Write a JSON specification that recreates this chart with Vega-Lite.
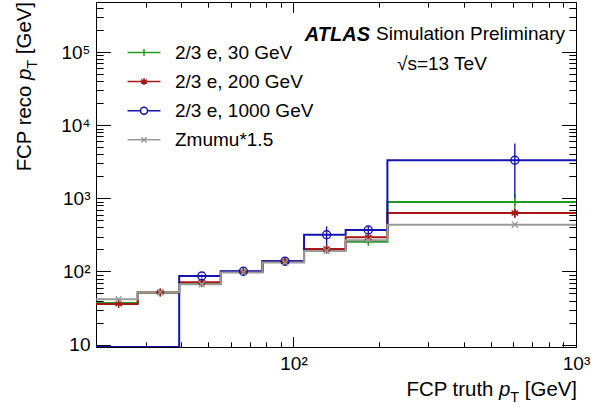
{
  "$schema": "https://vega.github.io/schema/vega-lite/v6.json",
  "width": 480,
  "height": 345,
  "autosize": {"type": "none"},
  "padding": {"left": 96, "top": 2, "right": 28, "bottom": 70},
  "background": "white",
  "config": {
    "font": "Liberation Sans",
    "view": {"stroke": "black", "strokeWidth": 1}
  },
  "datasets": {
    "hist": [
      {"series": "2/3 e, 30 GeV", "bin": 1, "lo": 20, "hi": 28.1, "mid": 24.05, "v": 37, "err": 1},
      {"series": "2/3 e, 30 GeV", "bin": 2, "lo": 28.1, "hi": 39.4, "mid": 33.75, "v": 51, "err": 1},
      {"series": "2/3 e, 30 GeV", "bin": 3, "lo": 39.4, "hi": 55.3, "mid": 47.35, "v": 69, "err": 1.5},
      {"series": "2/3 e, 30 GeV", "bin": 4, "lo": 55.3, "hi": 77.7, "mid": 66.5, "v": 99, "err": 2},
      {"series": "2/3 e, 30 GeV", "bin": 5, "lo": 77.7, "hi": 109, "mid": 93.35, "v": 137, "err": 3},
      {"series": "2/3 e, 30 GeV", "bin": 6, "lo": 109, "hi": 153, "mid": 131, "v": 198, "err": 6},
      {"series": "2/3 e, 30 GeV", "bin": 7, "lo": 153, "hi": 215, "mid": 184, "v": 254, "err": 15},
      {"series": "2/3 e, 30 GeV", "bin": 8, "lo": 215, "hi": 1000, "mid": 607.5, "v": 889, "err": 240},
      {"series": "2/3 e, 200 GeV", "bin": 1, "lo": 20, "hi": 28.1, "mid": 24.05, "v": 36, "err": 1},
      {"series": "2/3 e, 200 GeV", "bin": 2, "lo": 28.1, "hi": 39.4, "mid": 33.75, "v": 52, "err": 1},
      {"series": "2/3 e, 200 GeV", "bin": 3, "lo": 39.4, "hi": 55.3, "mid": 47.35, "v": 71, "err": 1.5},
      {"series": "2/3 e, 200 GeV", "bin": 4, "lo": 55.3, "hi": 77.7, "mid": 66.5, "v": 99, "err": 2},
      {"series": "2/3 e, 200 GeV", "bin": 5, "lo": 77.7, "hi": 109, "mid": 93.35, "v": 138, "err": 3},
      {"series": "2/3 e, 200 GeV", "bin": 6, "lo": 109, "hi": 153, "mid": 131, "v": 203, "err": 6},
      {"series": "2/3 e, 200 GeV", "bin": 7, "lo": 153, "hi": 215, "mid": 184, "v": 294, "err": 18},
      {"series": "2/3 e, 200 GeV", "bin": 8, "lo": 215, "hi": 1000, "mid": 607.5, "v": 629, "err": 90},
      {"series": "2/3 e, 1000 GeV", "bin": 1, "lo": 20, "hi": 28.1, "mid": 24.05, "v": 9.273, "err": 0},
      {"series": "2/3 e, 1000 GeV", "bin": 2, "lo": 28.1, "hi": 39.4, "mid": 33.75, "v": 9.273, "err": 0},
      {"series": "2/3 e, 1000 GeV", "bin": 3, "lo": 39.4, "hi": 55.3, "mid": 47.35, "v": 86.7, "err": 4},
      {"series": "2/3 e, 1000 GeV", "bin": 4, "lo": 55.3, "hi": 77.7, "mid": 66.5, "v": 100.5, "err": 5},
      {"series": "2/3 e, 1000 GeV", "bin": 5, "lo": 77.7, "hi": 109, "mid": 93.35, "v": 138, "err": 8},
      {"series": "2/3 e, 1000 GeV", "bin": 6, "lo": 109, "hi": 153, "mid": 131, "v": 317, "err": 96},
      {"series": "2/3 e, 1000 GeV", "bin": 7, "lo": 153, "hi": 215, "mid": 184, "v": 369, "err": 40},
      {"series": "2/3 e, 1000 GeV", "bin": 8, "lo": 215, "hi": 1000, "mid": 607.5, "v": 3311, "err": 2290},
      {"series": "Zmumu*1.5", "bin": 1, "lo": 20, "hi": 28.1, "mid": 24.05, "v": 41.6, "err": 0.5},
      {"series": "Zmumu*1.5", "bin": 2, "lo": 28.1, "hi": 39.4, "mid": 33.75, "v": 52, "err": 0.5},
      {"series": "Zmumu*1.5", "bin": 3, "lo": 39.4, "hi": 55.3, "mid": 47.35, "v": 66.6, "err": 0.5},
      {"series": "Zmumu*1.5", "bin": 4, "lo": 55.3, "hi": 77.7, "mid": 66.5, "v": 96.5, "err": 0.5},
      {"series": "Zmumu*1.5", "bin": 5, "lo": 77.7, "hi": 109, "mid": 93.35, "v": 133, "err": 1},
      {"series": "Zmumu*1.5", "bin": 6, "lo": 109, "hi": 153, "mid": 131, "v": 190, "err": 2},
      {"series": "Zmumu*1.5", "bin": 7, "lo": 153, "hi": 215, "mid": 184, "v": 268, "err": 4},
      {"series": "Zmumu*1.5", "bin": 8, "lo": 215, "hi": 1000, "mid": 607.5, "v": 436, "err": 15}
    ]
  },
  "data": {"name": "hist"},
  "layer": [
    {
      "transform": [{"fold": ["lo", "hi"], "as": ["edge", "x"]}],
      "mark": {"type": "line", "strokeWidth": 2, "clip": true},
      "encoding": {
        "x": {
          "field": "x", "type": "quantitative",
          "scale": {"type": "log", "domain": [20, 1000], "nice": false},
          "axis": {
            "orient": "bottom", "title": null, "grid": false, "domain": false,
            "values": [100, 1000],
            "labelExpr": "datum.value == 100 ? '10²' : '10³'",
            "labelFont": "Liberation Sans", "labelFontSize": 19, "labelColor": "black",
            "labelPadding": 17.4, "labelOverlap": false, "labelFlush": false,
            "tickSize": -10.4, "tickColor": "black", "tickWidth": 1
          }
        },
        "y": {
          "field": "v", "type": "quantitative",
          "scale": {"type": "log", "domain": [9.273, 482600], "nice": false},
          "axis": {
            "orient": "left", "title": null, "grid": false, "domain": false,
            "values": [10, 100, 1000, 10000, 100000],
            "labelExpr": "datum.value == 10 ? '10' : datum.value == 100 ? '10²' : datum.value == 1000 ? '10³' : datum.value == 10000 ? '10⁴' : '10⁵'",
            "labelFont": "Liberation Sans", "labelFontSize": 19, "labelColor": "black",
            "labelPadding": 20.4, "labelOverlap": false, "labelFlush": false,
            "tickSize": -14.4, "tickColor": "black", "tickWidth": 1
          }
        },
        "color": {
          "field": "series", "type": "nominal", "legend": null,
          "scale": {"range": ["#1414b0", "#a81616", "#1f9a1f", "#9a9a9a"]}
        },
        "order": [{"field": "x", "type": "quantitative"}, {"field": "bin", "type": "quantitative"}]
      }
    },
    {
      "transform": [{"filter": "datum.err > 0"}],
      "mark": {"type": "errorbar", "ticks": false, "thickness": 1.4, "clip": true},
      "encoding": {
        "x": {"field": "mid", "type": "quantitative", "scale": {"type": "log", "domain": [20, 1000], "nice": false}, "axis": null},
        "y": {"field": "v", "type": "quantitative", "scale": {"type": "log", "domain": [9.273, 482600], "nice": false}, "axis": null},
        "yError": {"field": "err"},
        "color": {"field": "series", "type": "nominal", "legend": null}
      }
    },
    {
      "transform": [{"filter": "datum.v > 9.3"}],
      "mark": {"type": "point", "filled": false, "size": 64, "strokeWidth": 1.4, "opacity": 1, "clip": true},
      "encoding": {
        "x": {
          "field": "mid", "type": "quantitative",
          "scale": {"type": "log", "domain": [20, 1000], "nice": false},
          "axis": {
            "orient": "top", "title": null, "grid": false, "domain": false, "labels": false,
            "values": [100, 1000],
            "tickSize": -10.4, "tickColor": "black", "tickWidth": 1
          }
        },
        "y": {
          "field": "v", "type": "quantitative",
          "scale": {"type": "log", "domain": [9.273, 482600], "nice": false},
          "axis": {
            "orient": "right", "title": null, "grid": false, "domain": false, "labels": false,
            "values": [10, 100, 1000, 10000, 100000],
            "tickSize": -14.4, "tickColor": "black", "tickWidth": 1
          }
        },
        "color": {"field": "series", "type": "nominal", "legend": null},
        "shape": {
          "field": "series", "type": "nominal", "legend": null,
          "scale": {
            "range": [
              "circle",
              "M-1,0L1,0M0,-1L0,1M-0.8,-0.6L0.8,0.6M-0.8,0.6L0.8,-0.6",
              "M-1,0L1,0M0,-1L0,1",
              "M-0.75,-0.75L0.75,0.75M-0.75,0.75L0.75,-0.75"
            ]
          }
        }
      }
    },
    {
      "name": "legend_keys",
      "mark": {"type": "point", "filled": false, "opacity": 0, "clip": true},
      "encoding": {
        "x": {"field": "mid", "type": "quantitative", "scale": {"type": "log", "domain": [20, 1000], "nice": false}, "axis": null},
        "y": {"field": "v", "type": "quantitative", "scale": {"type": "log", "domain": [9.273, 482600], "nice": false}, "axis": null},
        "stroke": {
          "field": "series", "type": "nominal",
          "scale": {
            "domain": ["2/3 e, 30 GeV", "2/3 e, 200 GeV", "2/3 e, 1000 GeV", "Zmumu*1.5"],
            "range": ["#1f9a1f", "#a81616", "#1414b0", "#9a9a9a"]
          },
          "legend": {
            "orient": "none", "legendX": 38.5, "legendY": 41, "title": null,
            "padding": 0, "labelFont": "Liberation Sans", "labelFontSize": 19, "labelColor": "black",
            "labelOffset": 21.5, "labelLimit": 300, "rowPadding": 9.1,
            "symbolSize": 49, "symbolStrokeWidth": 1.5, "symbolOpacity": 1,
            "symbolFillColor": "transparent", "symbolStrokeColor": "black"
          }
        },
        "shape": {
          "field": "series", "type": "nominal",
          "scale": {
            "domain": ["2/3 e, 30 GeV", "2/3 e, 200 GeV", "2/3 e, 1000 GeV", "Zmumu*1.5"],
            "range": [
              "M-4.7,0L4.7,0M0,-1L0,1",
              "M-4.7,0L4.7,0M0,-1L0,1M-0.8,-0.6L0.8,0.6M-0.8,0.6L0.8,-0.6",
              "M-4.7,0L-1,0M1,0L4.7,0M-1,0A1,1,0,1,1,1,0A1,1,0,1,1,-1,0",
              "M-4.7,0L4.7,0M-0.75,-0.75L0.75,0.75M-0.75,0.75L0.75,-0.75"
            ]
          },
          "legend": {
            "orient": "none", "legendX": 38.5, "legendY": 41, "title": null,
            "padding": 0, "labelFont": "Liberation Sans", "labelFontSize": 19, "labelColor": "black",
            "labelOffset": 21.5, "labelLimit": 300, "rowPadding": 9.1,
            "symbolSize": 49, "symbolStrokeWidth": 1.5, "symbolOpacity": 1,
            "symbolFillColor": "transparent", "symbolStrokeColor": "black"
          }
        }
      }
    },
    {
      "data": {"values": [{}]},
      "mark": {"type": "text", "text": "ATLAS", "font": "Liberation Sans", "fontSize": 20, "fontWeight": "bold", "fontStyle": "italic", "align": "right", "baseline": "alphabetic", "dx": -206, "dy": 38.6, "color": "black"},
      "encoding": {
        "x": {
          "datum": 1000, "type": "quantitative", "scale": {"type": "log", "domain": [20, 1000], "nice": false},
          "axis": {
            "orient": "bottom", "title": null, "grid": false, "domain": false, "labels": false,
            "values": [20, 30, 40, 50, 60, 70, 80, 90, 200, 300, 400, 500, 600, 700, 800, 900],
            "tickSize": -5.2, "tickColor": "black", "tickWidth": 1
          }
        },
        "y": {
          "datum": 482600, "type": "quantitative", "scale": {"type": "log", "domain": [9.273, 482600], "nice": false},
          "axis": {
            "orient": "left", "title": null, "grid": false, "domain": false, "labels": false,
            "values": [20, 30, 40, 50, 60, 70, 80, 90, 200, 300, 400, 500, 600, 700, 800, 900, 2000, 3000, 4000, 5000, 6000, 7000, 8000, 9000, 20000, 30000, 40000, 50000, 60000, 70000, 80000, 90000, 200000, 300000, 400000],
            "tickSize": -7.2, "tickColor": "black", "tickWidth": 1
          }
        }
      }
    },
    {
      "data": {"values": [{}]},
      "mark": {"type": "text", "text": "Simulation Preliminary", "font": "Liberation Sans", "fontSize": 19, "align": "right", "baseline": "alphabetic", "dx": -11, "dy": 38.3, "color": "black"},
      "encoding": {
        "x": {
          "datum": 1000, "type": "quantitative", "scale": {"type": "log", "domain": [20, 1000], "nice": false},
          "axis": {
            "orient": "top", "title": null, "grid": false, "domain": false, "labels": false,
            "values": [20, 30, 40, 50, 60, 70, 80, 90, 200, 300, 400, 500, 600, 700, 800, 900],
            "tickSize": -5.2, "tickColor": "black", "tickWidth": 1
          }
        },
        "y": {
          "datum": 482600, "type": "quantitative", "scale": {"type": "log", "domain": [9.273, 482600], "nice": false},
          "axis": {
            "orient": "right", "title": null, "grid": false, "domain": false, "labels": false,
            "values": [20, 30, 40, 50, 60, 70, 80, 90, 200, 300, 400, 500, 600, 700, 800, 900, 2000, 3000, 4000, 5000, 6000, 7000, 8000, 9000, 20000, 30000, 40000, 50000, 60000, 70000, 80000, 90000, 200000, 300000, 400000],
            "tickSize": -7.2, "tickColor": "black", "tickWidth": 1
          }
        }
      }
    },
    {
      "data": {"values": [{}]},
      "mark": {"type": "text", "text": "√s=13 TeV", "font": "Liberation Sans", "fontSize": 19, "align": "left", "baseline": "alphabetic", "dx": -179, "dy": 68, "color": "black"},
      "encoding": {
        "x": {"datum": 1000, "type": "quantitative", "scale": {"type": "log", "domain": [20, 1000], "nice": false}, "axis": null},
        "y": {"datum": 482600, "type": "quantitative", "scale": {"type": "log", "domain": [9.273, 482600], "nice": false}, "axis": null}
      }
    },
    {
      "data": {"values": [{}]},
      "mark": {"type": "text", "text": "FCP truth", "font": "Liberation Sans", "fontSize": 20.4, "align": "right", "baseline": "alphabetic", "dx": -82.6, "dy": 48.8, "color": "black"},
      "encoding": {
        "x": {"datum": 1000, "type": "quantitative", "scale": {"type": "log", "domain": [20, 1000], "nice": false}, "axis": null},
        "y": {"datum": 9.273, "type": "quantitative", "scale": {"type": "log", "domain": [9.273, 482600], "nice": false}, "axis": null}
      }
    },
    {
      "data": {"values": [{}]},
      "mark": {"type": "text", "text": "p", "font": "Liberation Sans", "fontSize": 20.4, "fontStyle": "italic", "align": "right", "baseline": "alphabetic", "dx": -65.7, "dy": 48.8, "color": "black"},
      "encoding": {
        "x": {"datum": 1000, "type": "quantitative", "scale": {"type": "log", "domain": [20, 1000], "nice": false}, "axis": null},
        "y": {"datum": 9.273, "type": "quantitative", "scale": {"type": "log", "domain": [9.273, 482600], "nice": false}, "axis": null}
      }
    },
    {
      "data": {"values": [{}]},
      "mark": {"type": "text", "text": "T", "font": "Liberation Sans", "fontSize": 14.3, "align": "right", "baseline": "alphabetic", "dx": -57, "dy": 55, "color": "black"},
      "encoding": {
        "x": {"datum": 1000, "type": "quantitative", "scale": {"type": "log", "domain": [20, 1000], "nice": false}, "axis": null},
        "y": {"datum": 9.273, "type": "quantitative", "scale": {"type": "log", "domain": [9.273, 482600], "nice": false}, "axis": null}
      }
    },
    {
      "data": {"values": [{}]},
      "mark": {"type": "text", "text": "[GeV]", "font": "Liberation Sans", "fontSize": 20.4, "align": "right", "baseline": "alphabetic", "dx": 1, "dy": 48.8, "color": "black"},
      "encoding": {
        "x": {"datum": 1000, "type": "quantitative", "scale": {"type": "log", "domain": [20, 1000], "nice": false}, "axis": null},
        "y": {"datum": 9.273, "type": "quantitative", "scale": {"type": "log", "domain": [9.273, 482600], "nice": false}, "axis": null}
      }
    },
    {
      "data": {"values": [{}]},
      "mark": {"type": "text", "text": "FCP reco", "font": "Liberation Sans", "fontSize": 20.4, "angle": 270, "align": "right", "baseline": "alphabetic", "dx": -83.6, "dy": -65.3, "color": "black"},
      "encoding": {
        "x": {"datum": 20, "type": "quantitative", "scale": {"type": "log", "domain": [20, 1000], "nice": false}, "axis": null},
        "y": {"datum": 482600, "type": "quantitative", "scale": {"type": "log", "domain": [9.273, 482600], "nice": false}, "axis": null}
      }
    },
    {
      "data": {"values": [{}]},
      "mark": {"type": "text", "text": "p", "font": "Liberation Sans", "fontSize": 20.4, "fontStyle": "italic", "angle": 270, "align": "right", "baseline": "alphabetic", "dx": -66.6, "dy": -65.3, "color": "black"},
      "encoding": {
        "x": {"datum": 20, "type": "quantitative", "scale": {"type": "log", "domain": [20, 1000], "nice": false}, "axis": null},
        "y": {"datum": 482600, "type": "quantitative", "scale": {"type": "log", "domain": [9.273, 482600], "nice": false}, "axis": null}
      }
    },
    {
      "data": {"values": [{}]},
      "mark": {"type": "text", "text": "T", "font": "Liberation Sans", "fontSize": 14.3, "angle": 270, "align": "right", "baseline": "alphabetic", "dx": -57.9, "dy": -59.3, "color": "black"},
      "encoding": {
        "x": {"datum": 20, "type": "quantitative", "scale": {"type": "log", "domain": [20, 1000], "nice": false}, "axis": null},
        "y": {"datum": 482600, "type": "quantitative", "scale": {"type": "log", "domain": [9.273, 482600], "nice": false}, "axis": null}
      }
    },
    {
      "data": {"values": [{}]},
      "mark": {"type": "text", "text": "[GeV]", "font": "Liberation Sans", "fontSize": 20.4, "angle": 270, "align": "right", "baseline": "alphabetic", "dx": 0, "dy": -65.3, "color": "black"},
      "encoding": {
        "x": {"datum": 20, "type": "quantitative", "scale": {"type": "log", "domain": [20, 1000], "nice": false}, "axis": null},
        "y": {"datum": 482600, "type": "quantitative", "scale": {"type": "log", "domain": [9.273, 482600], "nice": false}, "axis": null}
      }
    }
  ],
  "resolve": {
    "scale": {"shape": "independent", "stroke": "independent"},
    "axis": {"x": "independent", "y": "independent"}
  }
}
